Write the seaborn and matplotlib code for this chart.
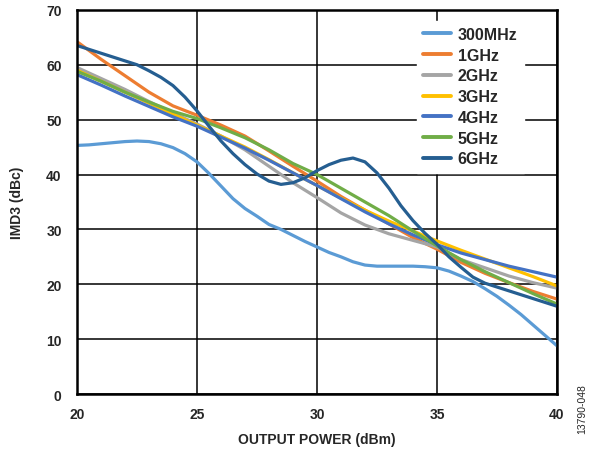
import pandas as pd
import matplotlib
matplotlib.use("Agg")
import matplotlib.pyplot as plt
import seaborn as sns

# output power (dBm): 1 dB readings and 0.5 dB readings for the curvier traces
power = [20, 21, 22, 23, 24, 25, 26, 27, 28, 29, 30, 31, 32, 33, 34, 35, 36, 37, 38, 39, 40]
power_fine = [20, 20.5, 21, 21.5, 22, 22.5, 23, 23.5, 24, 24.5, 25, 25.5, 26, 26.5, 27, 27.5,
              28, 28.5, 29, 29.5, 30, 30.5, 31, 31.5, 32, 32.5, 33, 33.5, 34, 34.5, 35, 35.5,
              36, 36.5, 37, 37.5, 38, 38.5, 39, 39.5, 40]

# IMD3 (dBc) per frequency
imd_300m = [45.3, 45.4, 45.6, 45.8, 46.0, 46.1, 46.0, 45.6, 44.9, 43.8, 42.3, 40.2, 37.9, 35.6,
            33.8, 32.4, 30.9, 30.0, 28.9, 27.8, 26.8, 25.8, 25.0, 24.1, 23.5, 23.3, 23.3, 23.3,
            23.3, 23.2, 23.0, 22.4, 21.5, 20.5, 19.2, 17.8, 16.2, 14.5, 12.6, 10.7, 8.8]
imd_1g = [64.2, 61.0, 58.0, 55.0, 52.5, 50.8, 49.0, 47.0, 44.3, 41.5, 38.8, 36.0, 33.5, 31.0, 28.5, 26.4, 24.0, 22.0, 20.3, 18.7, 17.3]
imd_2g = [59.5, 57.5, 55.5, 53.3, 51.2, 49.2, 47.0, 44.5, 41.5, 38.5, 35.8, 33.0, 30.8, 29.2, 28.0, 26.8, 24.5, 23.0, 21.5, 20.3, 19.3]
imd_3g = [59.0, 57.0, 55.0, 53.0, 51.0, 49.0, 47.0, 45.0, 42.7, 40.3, 38.0, 35.7, 33.5, 31.5, 29.7, 27.9, 26.2, 24.6, 23.0, 21.4, 19.7]
imd_4g = [58.2, 56.3, 54.3, 52.4, 50.5, 48.8, 46.8, 44.8, 42.6, 40.3, 38.0, 35.6, 33.2, 31.0, 29.0, 27.2, 25.7, 24.5, 23.3, 22.3, 21.3]
imd_5g = [58.8, 57.0, 55.0, 53.2, 51.5, 50.2, 48.5, 46.7, 44.5, 42.0, 40.0, 37.5, 35.0, 32.5, 29.7, 27.0, 24.5, 22.3, 20.3, 18.3, 16.4]
imd_6g = [63.5, 62.8, 62.1, 61.4, 60.7, 60.0, 58.9, 57.7, 56.2, 54.1, 51.6, 48.8, 46.1, 43.8,
          41.8, 40.1, 38.8, 38.2, 38.5, 39.4, 40.7, 41.8, 42.6, 43.0, 42.3, 40.3, 37.5, 34.3,
          31.6, 29.3, 27.3, 25.0, 23.1, 21.3, 20.2, 19.5, 18.8, 18.1, 17.4, 16.7, 16.0]

labels = ["300MHz", "1GHz", "2GHz", "3GHz", "4GHz", "5GHz", "6GHz"]
colors = ["#5B9BD5", "#ED7D31", "#A5A5A5", "#FFC000", "#4472C4", "#70AD47", "#255E91"]

series = [(power_fine, imd_300m), (power, imd_1g), (power, imd_2g), (power, imd_3g),
          (power, imd_4g), (power, imd_5g), (power_fine, imd_6g)]
rows = []
for lab, (xs, vals) in zip(labels, series):
    for p, v in zip(xs, vals):
        rows.append({"power": p, "imd3": v, "freq": lab})
df = pd.DataFrame(rows)

sns.set_style("white")
plt.rcParams["font.family"] = ["Liberation Sans", "DejaVu Sans"]
plt.rcParams["font.weight"] = "bold"

fig = plt.figure(figsize=(5.9, 4.52), dpi=100)
ax = fig.add_axes([0.1305, 0.126, 0.8135, 0.85])

sns.lineplot(data=df, x="power", y="imd3", hue="freq", hue_order=labels,
             palette=colors, linewidth=2.3, ax=ax)

ax.set_xlim(20, 40)
ax.set_ylim(0, 70)
ax.set_xticks([20, 25, 30, 35, 40])
ax.set_yticks(range(0, 71, 10))
ax.grid(True, color="black", linewidth=1.1)
ax.set_axisbelow(True)
for s in ax.spines.values():
    s.set_color("black")
    s.set_linewidth(1.8)
ax.tick_params(axis="x", labelsize=10, length=0, pad=9)
ax.tick_params(axis="y", labelsize=10, length=0, pad=11)
for t in ax.get_xticklabels() + ax.get_yticklabels():
    t.set_fontweight("bold")
ax.set_xlabel("OUTPUT POWER (dBm)", fontsize=10, fontweight="bold", labelpad=8)
ax.set_ylabel("IMD3 (dBc)", fontsize=10, fontweight="bold", labelpad=16)

leg = ax.legend(loc="upper left", bbox_to_anchor=(0.708, 0.972), frameon=True,
                fontsize=11.5, handlelength=1.75, handletextpad=0.4,
                labelspacing=0.36, borderpad=0.4, borderaxespad=0)
leg.get_frame().set_edgecolor("white")
leg.get_frame().set_facecolor("white")
leg.get_frame().set_alpha(1.0)
leg.get_frame().set_boxstyle("square", pad=0)
for t in leg.get_texts():
    t.set_fontweight("bold")
for h in leg.get_lines():
    h.set_linewidth(2.8)

fig.text(0.987, 0.095, "13790-048", rotation=90, fontsize=7.5,
         fontweight="normal", ha="center", va="center")

fig.savefig("out.png", dpi=100)
